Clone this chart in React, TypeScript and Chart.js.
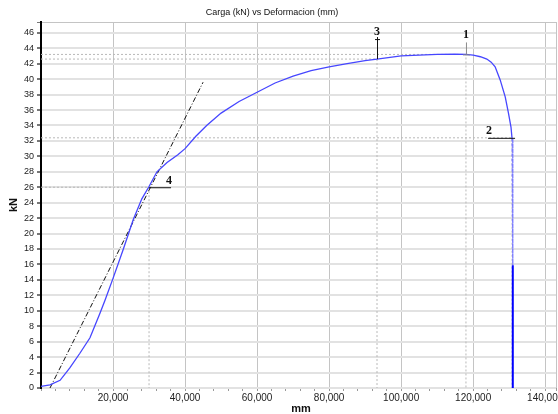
import React, { useEffect, useRef } from "react";
import { Chart, registerables } from "chart.js";

Chart.register(...registerables);

// Deformation (x) and load in kN (y)
const deformation = [
  0, 2500, 5300, 8000, 10800, 13600, 16400, 17800, 20000, 22800, 25600, 28000,
  30000, 32200, 35000, 38000, 40000, 43000, 46000, 50000, 55000, 60000, 65000,
  70000, 75000, 80000, 85000, 90000, 93300, 100000, 105000, 110000, 115000,
  118000, 120000, 122000, 123800, 125000, 126100, 127500, 128900, 129800,
  130500, 130800, 131000, 131000,
];
const load = [
  0.2, 0.4, 1.0, 2.6, 4.5, 6.5, 9.7, 11.4, 14.2, 17.9, 21.8, 24.5,
  26.1, 28.0, 29.2, 30.2, 31.0, 32.6, 34.0, 35.6, 37.1, 38.3, 39.5,
  40.4, 41.1, 41.6, 42.0, 42.4, 42.6, 43.0, 43.1, 43.2, 43.25,
  43.2, 43.1, 42.9, 42.6, 42.2, 41.6, 39.9, 37.7, 35.6,
  33.8, 32.3, 15.9, 0,
];

// Tangent (dash-dot) line
const tangentX = [2500, 45000];
const tangentY = [0, 39.6];

// Markers
const markerIds = ["1", "2", "3", "4"];
const markerX = [118000, 130800, 93300, 30000];
const markerY = [43.2, 32.4, 42.6, 26.0];

// Axis ticks
const xMajorTicks = [20000, 40000, 60000, 80000, 100000, 120000, 140000];
const xMinorStep = 4000;
const xMax = 143000;
const yTickValues = [0, 2, 4, 6, 8, 10, 12, 14, 16, 18, 20, 22, 24, 26, 28, 30, 32, 34, 36, 38, 40, 42, 44, 46];
const yMax = 47.4;

const FONT = '"Liberation Sans", Arial, sans-serif';

export default function App() {
  const ref = useRef<HTMLCanvasElement | null>(null);

  useEffect(() => {
    if (!ref.current) return;
    const n = deformation.length;
    const curve = deformation.map((x, i) => ({ x, y: load[i] }));
    const tangent = tangentX.map((x, i) => ({ x, y: tangentY[i] }));

    const xTickVals: number[] = [];
    for (let v = 0; v <= xMax; v += xMinorStep) xTickVals.push(v);
    xTickVals.push(xMax);
    const majorSet = new Set(xMajorTicks);

    const guideSets = markerX.map((mx, i) => ({
      data: [
        { x: 0, y: markerY[i] },
        { x: mx, y: markerY[i] },
        { x: mx, y: 0 },
      ],
      showLine: true,
      borderColor: "#b8b8b8",
      borderWidth: 1,
      borderDash: [2, 2],
      pointRadius: 0,
      order: 5,
    }));

    const textPlugin = {
      id: "texts",
      afterDraw(chart: any) {
        const c = chart.ctx;
        const xs = chart.scales.x;
        const ys = chart.scales.y;
        c.save();
        c.fillStyle = "#111";
        c.font = "9px " + FONT;
        c.textAlign = "center";
        c.textBaseline = "middle";
        c.fillText("Carga (kN) vs Deformacion (mm)", 272, 13);
        c.font = "bold 11px " + FONT;
        c.fillText("mm", 301, 409);
        c.save();
        c.translate(14, 205);
        c.rotate(-Math.PI / 2);
        c.fillText("kN", 0, 0);
        c.restore();

        const px = markerX.map((v) => xs.getPixelForValue(v));
        const py = markerY.map((v) => ys.getPixelForValue(v));
        c.lineWidth = 1;
        c.strokeStyle = "#8a8a8a";
        c.beginPath();
        c.moveTo(px[0] + 0.5, py[0]);
        c.lineTo(px[0] + 0.5, py[0] - 12);
        c.moveTo(px[0] - 3, py[0] + 0.5);
        c.lineTo(px[0] + 4, py[0] + 0.5);
        c.stroke();
        c.strokeStyle = "#111";
        c.beginPath();
        c.moveTo(px[1] - 24, py[1] + 0.5);
        c.lineTo(px[1] + 3, py[1] + 0.5);
        c.stroke();
        c.beginPath();
        c.moveTo(px[2] + 0.5, py[2]);
        c.lineTo(px[2] + 0.5, py[2] - 22);
        c.moveTo(px[2] - 2, py[2] - 19.5);
        c.lineTo(px[2] + 3, py[2] - 19.5);
        c.stroke();
        c.beginPath();
        c.moveTo(px[3], py[3] + 0.5);
        c.lineTo(px[3] + 22, py[3] + 0.5);
        c.stroke();

        c.fillStyle = "#111";
        c.font = 'bold 12px "Liberation Serif", "DejaVu Serif", serif';
        const off = [
          [0, -20],
          [-23, -7],
          [0, -27],
          [20, -6],
        ];
        markerIds.forEach((id, i) => {
          c.fillText(id, px[i] + off[i][0], py[i] + off[i][1]);
        });
        c.restore();
      },
    };

    const chart = new Chart(ref.current, {
      type: "scatter",
      data: {
        datasets: [
          {
            data: curve,
            showLine: true,
            borderColor: "#4646ff",
            borderWidth: 1.3,
            pointRadius: 0,
            order: 1,
            segment: {
              borderDash: (ctx: any) =>
                ctx.p0DataIndex === n - 3 ? [3, 2] : undefined,
              borderColor: (ctx: any) =>
                ctx.p0DataIndex === n - 3
                  ? "#7a7aff"
                  : ctx.p0DataIndex === n - 2
                  ? "#0000ff"
                  : undefined,
              borderWidth: (ctx: any) =>
                ctx.p0DataIndex === n - 2 ? 2 : undefined,
            },
          } as any,
          {
            data: tangent,
            showLine: true,
            borderColor: "#111",
            borderWidth: 1,
            borderDash: [5, 2, 1, 2],
            pointRadius: 0,
            order: 2,
          },
          ...guideSets,
        ],
      },
      options: {
        animation: false,
        responsive: false,
        maintainAspectRatio: false,
        layout: { padding: { top: 22, right: 2, left: 0, bottom: 0 } },
        plugins: {
          legend: { display: false },
          title: { display: false },
          tooltip: { enabled: false },
        },
        scales: {
          x: {
            type: "linear",
            min: 0,
            max: xMax,
            afterBuildTicks: (s: any) => {
              s.ticks = xTickVals.map((v) => ({ value: v }));
            },
            ticks: {
              autoSkip: false,
              maxRotation: 0,
              minRotation: 0,
              padding: 1,
              color: "#222",
              font: { size: 10, family: FONT },
              callback: (v: any) =>
                majorSet.has(Number(v)) ? Number(v).toLocaleString("en-US") : "",
            },
            grid: {
              color: (ctx: any) => {
                const v = ctx.tick ? Number(ctx.tick.value) : -1;
                return majorSet.has(v) || v === xMax ? "#c4c4c4" : "rgba(0,0,0,0)";
              },
              tickColor: "#999",
              tickLength: 3,
              lineWidth: 1,
            },
            border: { display: false },
            afterFit: (s: any) => {
              s.height = 26;
            },
          },
          y: {
            type: "linear",
            min: 0,
            max: yMax,
            afterBuildTicks: (s: any) => {
              s.ticks = [...yTickValues, yMax].map((v) => ({ value: v }));
            },
            ticks: {
              autoSkip: false,
              padding: 3,
              color: "#222",
              font: { size: 9, family: FONT },
              callback: (v: any) => (Number(v) === yMax ? "" : String(v)),
            },
            grid: {
              color: (ctx: any) =>
                ctx.tick && ctx.tick.value === yMax ? "#c4c4c4" : "#e2e2e2",
              lineWidth: (ctx: any) => (ctx.tick && ctx.tick.value === yMax ? 1 : 2),
              tickColor: "#777",
              tickLength: 4,
            },
            border: { color: "#000", width: 2 },
            afterFit: (s: any) => {
              s.width = 41;
            },
          },
        },
      },
      plugins: [textPlugin],
    } as any);

    return () => chart.destroy();
  }, []);

  return (
    <div style={{ position: "fixed", left: 0, top: 0, width: 558, height: 414, background: "#fff" }}>
      <canvas ref={ref} width={558} height={414} style={{ width: 558, height: 414, display: "block" }} />
    </div>
  );
}
